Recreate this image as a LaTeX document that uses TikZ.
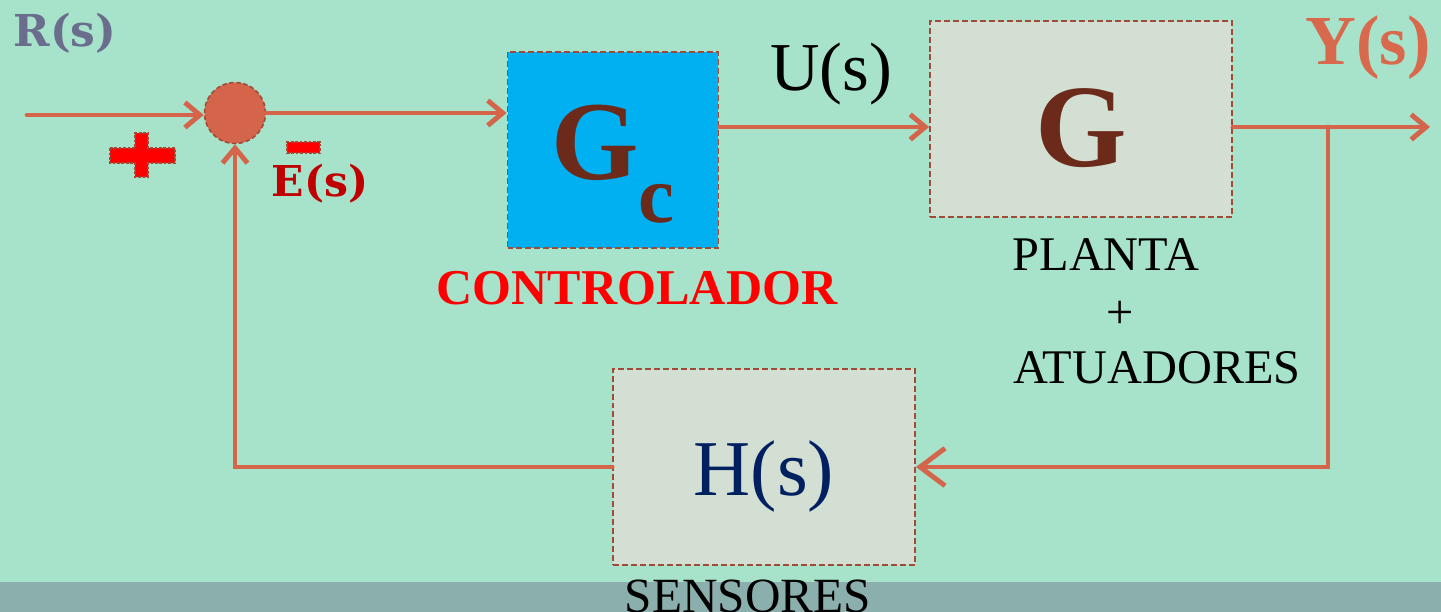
\documentclass[tikz,border=0pt]{standalone}
\usepackage{fontspec}
\setmainfont{Liberation Serif}
\newfontfamily\slabfont{DejaVu Serif}
\usepackage{xcolor}
\usepackage{tikz}
\usetikzlibrary{arrows.meta,positioning}
\definecolor{LoopBg}{HTML}{A6E3CA}
\definecolor{LoopStrip}{HTML}{8AAFAD}
\definecolor{LoopLine}{HTML}{D4654A}
\definecolor{LoopEdge}{HTML}{A04A38}
\definecolor{CtrlBlue}{HTML}{00B0F0}
\definecolor{BlockGray}{HTML}{D3DFD3}
\definecolor{GainBrown}{HTML}{6B2A1A}
\definecolor{RefSlate}{HTML}{6A6E8C}
\definecolor{ErrRed}{HTML}{C00000}
\definecolor{OutOrange}{HTML}{D9694D}
\definecolor{SensNavy}{HTML}{002060}
\newcommand{\pxfont}[1]{\fontsize{#1}{#1}\selectfont}

\begin{document}
\begin{tikzpicture}[x=0.02cm, y=-0.02cm,
    block/.style={draw=LoopEdge, dashed, dash pattern=on 3.4pt off 1.7pt, line width=1.1pt, inner sep=0pt, text depth=0pt},
    signshape/.style={draw=LoopEdge, dashed, dash pattern=on 1.5pt off 1pt, line width=0.6pt, fill=red},
    flow/.style={draw=LoopLine, line width=2.8pt, line cap=round, -{Straight Barb[length=3mm,width=5mm,line width=2.8pt]}}]
    \useasboundingbox (0,0) rectangle (1441,612);
    \fill[LoopBg] (0,0) rectangle (1441,612);
    \fill[LoopStrip] (0,582) rectangle (1441,612);
    % blocks
    \node[block, fill=CtrlBlue, minimum width=4.22cm, minimum height=3.92cm, text height=34.1pt] (gc) at (613,150) {\textcolor{GainBrown}{\pxfont{64}\bfseries G\raisebox{-0.38em}{\pxfont{46}c}}};
    \node[block, fill=BlockGray, minimum width=6.04cm, minimum height=3.92cm, text height=54.6pt] (g) at (1081,119) {\textcolor{GainBrown}{\pxfont{67}\bfseries G}};
    \node[block, fill=BlockGray, minimum width=6.04cm, minimum height=3.92cm, text height=31.9pt] (h) at (764,467) {\textcolor{SensNavy}{\pxfont{45}H(s)}};
    \node[circle, draw=LoopEdge, dashed, dash pattern=on 2.5pt off 1.5pt, line width=0.9pt, fill=LoopLine, minimum size=1.22cm, inner sep=0pt] (sum) at (235,113) {};
    % signs
    \draw[signshape] (110,148) -- (135,148) -- (135,133) -- (148,133) -- (148,148) -- (175,148)
        -- (175,163) -- (148,163) -- (148,177) -- (135,177) -- (135,163) -- (110,163) -- cycle;
    \node[signshape, minimum width=0.66cm, minimum height=0.22cm, inner sep=0pt] (minus) at (303.5,147.5) {};
    % labels
    \node[text=RefSlate, font=\slabfont\pxfont{25}\bfseries] (rlab) at (65,33) {R(s)};
    \node[text=ErrRed, font=\slabfont\pxfont{24.2}\bfseries] (elab) at (320,184) {E(s)};
    \node[text=black, font=\pxfont{39}] (ulab) at (831,74) {U(s)};
    \node[text=OutOrange, font=\pxfont{40}\bfseries] (ylab) at (1368,48) {Y(s)};
    \node[text=red, font=\pxfont{28.5}\bfseries] (ctrl) at (637,288) {CONTROLADOR};
    \node[text=black, font=\pxfont{27.5}] (plant) at (1106,255) {PLANTA};
    \node[text=black, font=\pxfont{27.5}] (plantplus) at (1120,315) {+};
    \node[text=black, font=\pxfont{27.5}] (actu) at (1157,368) {ATUADORES};
    \node[text=black, font=\pxfont{28}] (sens) at (748,596) {SENSORES};
    \coordinate (rin) at (27,115);
    \coordinate (yout) at (1430,127);
    \coordinate (tap) at (1328,127);
    % connectors
    \draw[flow] (rin) -- (rin -| sum.west);
    \draw[flow] (sum.east) -- (sum.east -| gc.west);
    \draw[flow] (gc.east |- tap) -- (g.west |- tap);
    \draw[flow] (g.east |- tap) -- (yout);
    \draw[flow, -{Straight Barb[length=5mm,width=7.5mm,line width=2.8pt]}] (tap) |- (h.east);
    \draw[flow] (h.west) -| (sum.south);
\end{tikzpicture}
\end{document}
